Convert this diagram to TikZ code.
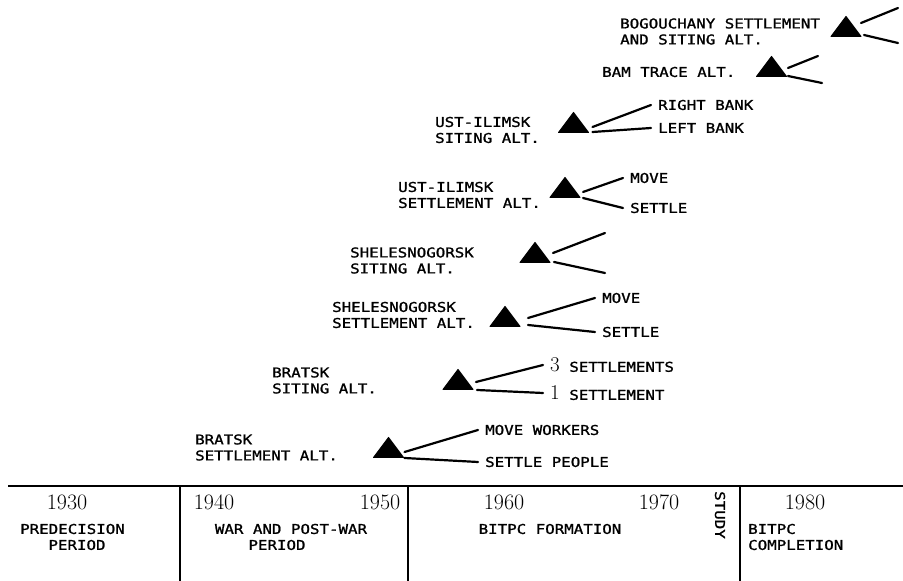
\documentclass[tikz,border=0pt]{standalone}
\usepackage{fontspec}
\usetikzlibrary{shapes.geometric}
\newfontfamily\lblfont[FakeStretch=1.17,FakeBold=1.2]{DejaVu Sans Mono}
\begin{document}
\begin{tikzpicture}[x=1pt,y=1pt,
  lbl/.style={font=\lblfont\fontsize{13.5}{16}\selectfont, inner sep=1pt, align=left, anchor=west},
  opt/.style={font=\lblfont\fontsize{13.5}{16}\selectfont, inner ysep=1pt, inner xsep=7pt, anchor=west},
  per/.style={font=\lblfont\fontsize{13.5}{16}\selectfont, inner sep=1pt, align=center},
  yr/.style={font=\fontsize{22}{24}\selectfont, inner sep=0pt},
  tri/.style={isosceles triangle, shape border rotate=90, isosceles triangle stretches,
              minimum width=30pt, minimum height=20pt, fill=black, draw=black, line join=round,
              line width=1pt, inner sep=0pt, anchor=lower side},
  branch/.style={line width=2.2pt, line cap=round},
  rule/.style={line width=2.8pt}]
\useasboundingbox (0,0) rectangle (903,581);

% ---------- decision points ----------
\node[tri] (t1) at (846,544) {};
\node[tri] (t2) at (771.5,504) {};
\node[tri] (t3) at (573.5,448) {};
\node[tri] (t4) at (565,383) {};
\node[tri] (t5) at (535,318) {};
\node[tri] (t6) at (505,254) {};
\node[tri] (t7) at (458,191) {};
\node[tri] (t8) at (388.5,123) {};

% ---------- decision names ----------
\node[lbl] (n1) at (619,549.5) {BOGOUCHANY SETTLEMENT\\AND SITING ALT.};
\node[lbl] (n2) at (601,509) {BAM TRACE ALT.};
\node[lbl] (n3) at (434,451) {UST-ILIMSK\\SITING ALT.};
\node[lbl] (n4) at (397,386) {UST-ILIMSK\\SETTLEMENT ALT.};
\node[lbl] (n5) at (349,320.5) {SHELESNOGORSK\\SITING ALT.};
\node[lbl] (n6) at (331,266) {SHELESNOGORSK\\SETTLEMENT ALT.};
\node[lbl] (n7) at (271,200.5) {BRATSK\\SITING ALT.};
\node[lbl] (n8) at (194,133.5) {BRATSK\\SETTLEMENT ALT.};

% ---------- alternatives ----------
\node[opt] (rb) at (651,476) {RIGHT BANK};
\node[opt] (lb) at (651,453) {LEFT BANK};
\node[opt] (mv4) at (623,403) {MOVE};
\node[opt] (st4) at (623,373) {SETTLE};
\node[opt] (mv6) at (595,283) {MOVE};
\node[opt] (st6) at (595,249) {SETTLE};
\node[opt] (s3) at (543,216) {{\fontfamily{lmr}\fontsize{21}{22}\selectfont 3} SETTLEMENTS};
\node[opt] (s1) at (543,188) {{\fontfamily{lmr}\fontsize{21}{22}\selectfont 1} SETTLEMENT};
\node[opt] (mw) at (478,151) {MOVE WORKERS};
\node[opt] (sp) at (478,119) {SETTLE PEOPLE};

\coordinate (e1a) at (898,573);
\coordinate (e1b) at (898,538);
\coordinate (e2a) at (818,525);
\coordinate (e2b) at (822,498);
\coordinate (e5a) at (605,348);
\coordinate (e5b) at (605,308);

% ---------- branches ----------
\draw[branch] ([shift={(15,14)}]t1.lower side) -- (e1a);
\draw[branch] ([shift={(18,2)}]t1.lower side) -- (e1b);
\draw[branch] ([shift={(16.5,9)}]t2.lower side) -- (e2a);
\draw[branch] ([shift={(16.5,1)}]t2.lower side) -- (e2b);
\draw[branch] ([shift={(19,6)}]t3.lower side) -- (rb.west);
\draw[branch] ([shift={(19,1)}]t3.lower side) -- (lb.west);
\draw[branch] ([shift={(18,6)}]t4.lower side) -- (mv4.west);
\draw[branch] ([shift={(18,0)}]t4.lower side) -- (st4.west);
\draw[branch] ([shift={(18,10)}]t5.lower side) -- (e5a);
\draw[branch] ([shift={(19,1)}]t5.lower side) -- (e5b);
\draw[branch] ([shift={(23,9)}]t6.lower side) -- (mv6.west);
\draw[branch] ([shift={(23,2)}]t6.lower side) -- (st6.west);
\draw[branch] ([shift={(18,8)}]t7.lower side) -- (s3.west);
\draw[branch] ([shift={(19,0)}]t7.lower side) -- (s1.west);
\draw[branch] ([shift={(16,6)}]t8.lower side) -- (mw.west);
\draw[branch] ([shift={(16,0)}]t8.lower side) -- (sp.west);

% ---------- time axis ----------
\coordinate (axL) at (8,95);
\coordinate (axR) at (903,95);
\coordinate (d1t) at (180,95);  \coordinate (d1b) at (180,0);
\coordinate (d2t) at (408,95);  \coordinate (d2b) at (408,0);
\coordinate (d3t) at (740,95);  \coordinate (d3b) at (740,0);
\draw[rule] (axL) -- (axR);
\draw[rule] (d1t) -- (d1b);
\draw[rule] (d2t) -- (d2b);
\draw[rule] (d3t) -- (d3b);

\node[yr] (y30) at (67,79) {1930};
\node[yr] (y40) at (214,79) {1940};
\node[yr] (y50) at (380,79) {1950};
\node[yr] (y60) at (504,79) {1960};
\node[yr] (y70) at (659,79) {1970};
\node[yr] (y80) at (805,79) {1980};

\node[per] (p1a) at (72.5,52) {PREDECISION};
\node[per] (p1b) at (77,36) {PERIOD};
\node[per] (p2a) at (291,52) {WAR AND POST-WAR};
\node[per] (p2b) at (277,36) {PERIOD};
\node[per] (p3) at (550,52) {BITPC FORMATION};
\node[per, rotate=-90] (st) at (720,66) {STUDY};
\node[lbl] (p4) at (747,44) {BITPC\\COMPLETION};
\end{tikzpicture}
\end{document}
